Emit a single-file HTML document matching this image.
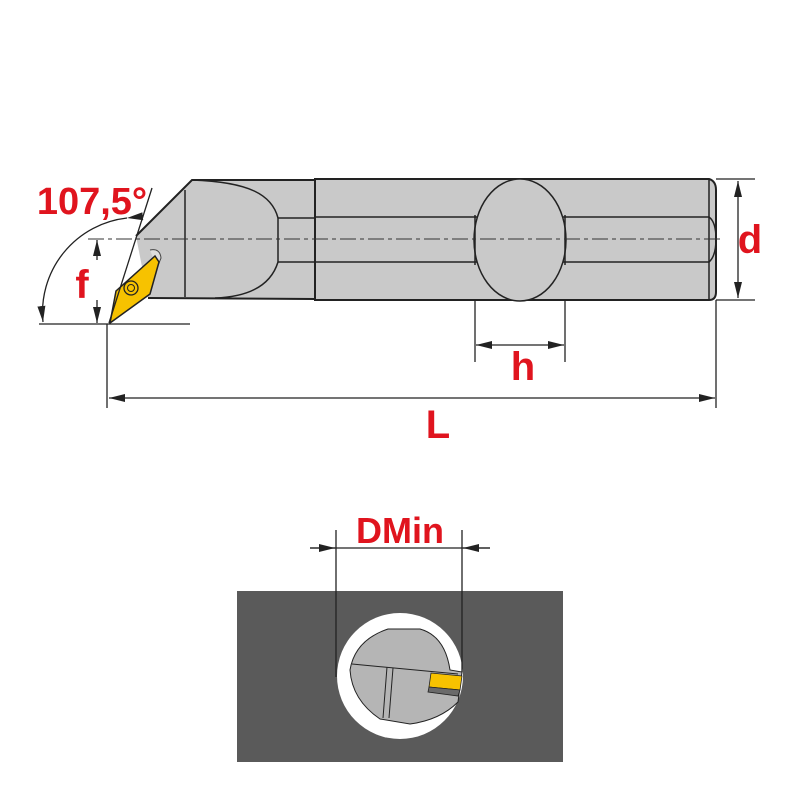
<!DOCTYPE html>
<html><head><meta charset="utf-8"><style>html,body{margin:0;padding:0;background:#fff}svg{display:block}</style></head>
<body>
<svg width="800" height="800" viewBox="0 0 800 800" xmlns="http://www.w3.org/2000/svg">
<defs>
<marker id="a" viewBox="0 0 16 8" refX="16" refY="4" markerWidth="16" markerHeight="8" markerUnits="userSpaceOnUse" orient="auto"><path d="M0,0L16,4L0,8z" fill="#222"/></marker>
</defs>
<g stroke="#222" stroke-width="1.5" fill="#c9c9c9">
<path d="M192,180 L315,180 L315,300 L148,298 L136,236 Z" stroke="none"/>
<path d="M136,236 L192,180 L315,180" fill="none" stroke-width="2"/>
<line x1="148" y1="298" x2="315" y2="299" stroke-width="2"/>
<line x1="185" y1="190" x2="185" y2="297"/>
<path d="M192,180 C250,182 272,195 278,218 M278,262 C270,288 245,297 215,298" fill="none"/>
<line x1="278" y1="218" x2="315" y2="218"/><line x1="278" y1="262" x2="315" y2="262"/>
<line x1="278" y1="218" x2="278" y2="262"/>
<path d="M315,179 L709,179 Q716,181 716,190 L716,292 Q716,300 709,300 L315,300 Z" stroke-width="2"/>
<line x1="709" y1="179" x2="709" y2="300"/>
<line x1="315" y1="217" x2="709" y2="217"/><line x1="315" y1="262" x2="709" y2="262"/>
<path d="M709,217 Q716,222 716,239 Q716,256 709,262" fill="none"/>
<ellipse cx="520" cy="240" rx="46" ry="61"/>
<line x1="475" y1="215" x2="475" y2="265"/><line x1="565" y1="215" x2="565" y2="265"/>
</g>
<path d="M150,250 Q160,248 161,258 L157,268" fill="#ddd" stroke="#444" stroke-width="1"/>
<polygon points="155,256 159,262 150,294 110,323 116,291" fill="#f7c200" stroke="#222" stroke-width="1.5"/>
<circle cx="131" cy="288" r="7" fill="#f7c200" stroke="#222" stroke-width="1.3"/>
<circle cx="131" cy="288" r="3.5" fill="none" stroke="#222" stroke-width="1"/>
<line x1="88" y1="239" x2="722" y2="239" stroke="#333" stroke-width="1" stroke-dasharray="16,4,4,4"/>
<g stroke="#222" stroke-width="1.3" fill="none">
<line x1="39" y1="324" x2="190" y2="324"/>
<line x1="107" y1="324" x2="107" y2="408"/>
<line x1="109" y1="323" x2="152" y2="188"/>
<path d="M127,218 A95,95 0 0 0 43,322" marker-start="url(#a)" marker-end="url(#a)" />
<line x1="97" y1="260" x2="97" y2="240" marker-end="url(#a)"/>
<line x1="97" y1="300" x2="97" y2="323" marker-end="url(#a)"/>
<line x1="716" y1="300" x2="716" y2="408"/>
<line x1="716" y1="179" x2="755" y2="179"/><line x1="716" y1="300" x2="755" y2="300"/>
<line x1="738" y1="200" x2="738" y2="181" marker-end="url(#a)"/>
<line x1="738" y1="200" x2="738" y2="298" marker-end="url(#a)"/>
<line x1="475" y1="300" x2="475" y2="362"/><line x1="565" y1="300" x2="565" y2="362"/>
<line x1="520" y1="345" x2="476" y2="345" marker-end="url(#a)"/>
<line x1="520" y1="345" x2="564" y2="345" marker-end="url(#a)"/>
<line x1="400" y1="398" x2="109" y2="398" marker-end="url(#a)"/>
<line x1="400" y1="398" x2="715" y2="398" marker-end="url(#a)"/>
</g>
<g fill="#e0141e" font-family="'Liberation Sans',sans-serif" font-weight="bold" font-size="40" text-anchor="middle">
<text x="92" y="214" font-size="38">107,5°</text>
<text x="82" y="298">f</text>
<text x="750" y="253">d</text>
<text x="523" y="380">h</text>
<text x="438" y="438">L</text>
<text x="400" y="543" font-size="36">DMin</text>
</g>
<rect x="237" y="591" width="326" height="171" fill="#5a5a5a"/>
<circle cx="400" cy="676" r="63" fill="#fff"/>
<path d="M388,629 L420,629 Q445,636 450,670 L462,672 L458,702 Q440,720 410,724 L380,719 Q352,700 350,670 Q355,640 388,629 Z" fill="#b5b5b5" stroke="#222" stroke-width="1"/>
<line x1="352" y1="664" x2="458" y2="674" stroke="#222" stroke-width="1"/>
<line x1="387" y1="667" x2="383" y2="718" stroke="#222" stroke-width="1"/>
<line x1="393" y1="668" x2="389" y2="718" stroke="#222" stroke-width="1"/>
<polygon points="431,673 462,676 460,690 429,687" fill="#f7c200" stroke="#222" stroke-width="0.8"/>
<polygon points="429,687 460,690 458,696 428,692" fill="#6a6a6a" stroke="#222" stroke-width="0.8"/>
<g stroke="#222" stroke-width="1.3">
<line x1="336" y1="530" x2="336" y2="677"/><line x1="462" y1="530" x2="462" y2="672"/>
<line x1="310" y1="548" x2="490" y2="548"/>
<line x1="310" y1="548" x2="335" y2="548" marker-end="url(#a)"/>
<line x1="490" y1="548" x2="463" y2="548" marker-end="url(#a)"/>
</g>
</svg>
</body></html>
